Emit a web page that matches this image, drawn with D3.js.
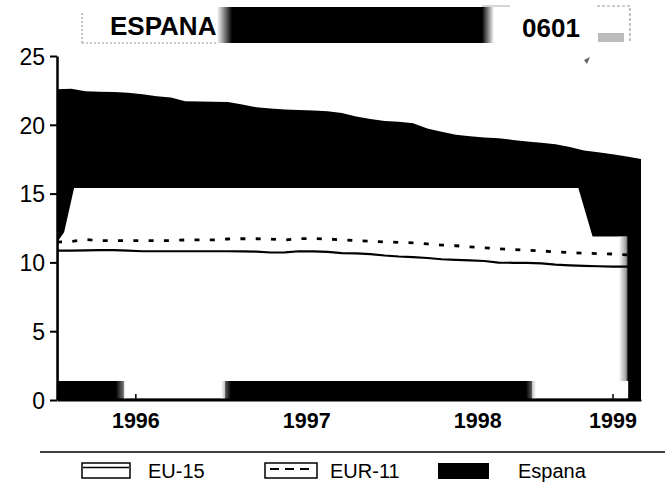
<!DOCTYPE html>
<html><head><meta charset="utf-8">
<script src="https://cdn.jsdelivr.net/npm/d3@7"></script>
<style>
body{margin:0;background:#fff}
svg{display:block}
text{font-family:"Liberation Sans",Arial,Helvetica,sans-serif;fill:#000}
</style>
</head><body>
<svg id="c" width="665" height="489"></svg>
<script>
// ---- data ----
const months = ["1996-01","1996-02","1996-03","1996-04","1996-05","1996-06","1996-07","1996-08","1996-09","1996-10","1996-11","1996-12",
"1997-01","1997-02","1997-03","1997-04","1997-05","1997-06","1997-07","1997-08","1997-09","1997-10","1997-11","1997-12",
"1998-01","1998-02","1998-03","1998-04","1998-05","1998-06","1998-07","1998-08","1998-09","1998-10","1998-11","1998-12",
"1999-01","1999-02","1999-03","1999-04","1999-05","1999-06"];
const espana = [22.58,22.62,22.43,22.41,22.38,22.33,22.22,22.07,21.98,21.71,21.69,21.67,
21.66,21.48,21.27,21.18,21.11,21.08,21.04,20.99,20.85,20.60,20.42,20.28,
20.23,20.11,19.73,19.50,19.27,19.16,19.08,19.03,18.90,18.79,18.69,18.59,
18.39,18.13,18.01,17.86,17.69,17.51];
const eu15 = [10.85,10.86,10.88,10.89,10.89,10.85,10.81,10.81,10.81,10.81,10.81,10.81,
10.81,10.80,10.79,10.72,10.73,10.81,10.80,10.76,10.68,10.65,10.60,10.50,
10.43,10.39,10.32,10.23,10.19,10.15,10.10,9.99,9.97,9.96,9.93,9.84,
9.79,9.75,9.72,9.69,9.69,9.69];
const eur11 = [11.48,11.52,11.66,11.59,11.58,11.58,11.58,11.58,11.59,11.63,11.63,11.63,
11.70,11.72,11.72,11.70,11.63,11.72,11.74,11.70,11.64,11.59,11.53,11.48,
11.46,11.42,11.34,11.26,11.21,11.13,11.06,10.99,10.94,10.88,10.83,10.77,
10.71,10.66,10.64,10.61,10.54,10.50];
const yTicks = [0,5,10,15,20,25];
const yearLabels = ["1996","1997","1998","1999"];
const yearTickPos = [5.5,17.5,29.5,39.0];   // month index where each year label sits
const legendLabels = ["EU-15","EUR-11","Espana"];
const titleText = "ESPANA", codeText = "0601";
// scan artefact: white patch over the black area (month index, value)
const maskPoly = [[1.2,15.41],[36.6,15.41],[37.6,11.88],[40.0,11.88],[40.0,1.38],[0.1,1.38],[0.1,11.6],[0.5,12.2]];
const maskHoles = [[4.7,11.8],[33.35,40.1]];  // white gaps in bottom band (months)
const holeVals = [0.12,1.38];

// ---- drawing ----
const svg = d3.select("#c");
const x = d3.scaleLinear().domain([0, months.length-1]).range([57, 641]);
const y = d3.scaleLinear().domain([0, 25]).range([400, 56]);

const defs = svg.append("defs");
function grad(id, from, to){
  const g = defs.append("linearGradient").attr("id",id);
  g.append("stop").attr("offset","0").attr("stop-color",from);
  g.append("stop").attr("offset","1").attr("stop-color",to);
}
grad("fadeL","#fff","#000");
grad("fadeR","#000","#fff");
grad("fadeLg","#fff","#555");
grad("fadeRg","#555","#fff");

// Espana area
svg.append("path").datum(espana)
  .attr("d", d3.area().x((d,i)=>x(i)).y0(y(0)).y1(d=>y(d)))
  .attr("fill","#000");

// white scan patch
svg.append("path").datum(maskPoly)
  .attr("d", d3.line().x(d=>x(d[0])).y(d=>y(d[1])).curve(d3.curveLinearClosed))
  .attr("fill","#fff");
svg.selectAll("rect.hole").data(maskHoles).join("rect").attr("class","hole")
  .attr("x", d=>x(d[0])).attr("width", d=>x(d[1])-x(d[0]))
  .attr("y", y(holeVals[1])).attr("height", y(holeVals[0])-y(holeVals[1]))
  .attr("fill","#fff");
// soft grey edges of the scan patch
const hy = y(holeVals[1]), hh = y(holeVals[0])-y(holeVals[1]);
svg.append("rect").attr("x",x(maskHoles[0][0])-8).attr("y",hy).attr("width",10).attr("height",hh).attr("fill","url(#fadeR)").attr("opacity",0.6);
svg.append("rect").attr("x",x(maskHoles[0][1])-4).attr("y",hy).attr("width",10).attr("height",hh).attr("fill","url(#fadeL)").attr("opacity",0.6);
svg.append("rect").attr("x",x(maskHoles[1][0])-6).attr("y",hy).attr("width",10).attr("height",hh).attr("fill","url(#fadeR)").attr("opacity",0.6);
svg.append("rect").attr("x",x(40.0)-8).attr("y",y(11.88)).attr("width",9).attr("height",y(1.38)-y(11.88)).attr("fill","url(#fadeLg)").attr("opacity",0.7);

// lines
const line = d3.line().x((d,i)=>x(i)).y(d=>y(d));
svg.append("path").datum(eu15).attr("d", line)
  .attr("fill","none").attr("stroke","#000").attr("stroke-width",2.2);
svg.append("path").datum(eur11).attr("d", line)
  .attr("fill","none").attr("stroke","#000").attr("stroke-width",2.8)
  .attr("stroke-dasharray","5,10.3");

// y axis
const ya = svg.append("g").attr("transform","translate(57,0)")
  .call(d3.axisLeft(y).tickValues(yTicks).tickSize(7).tickSizeOuter(0).tickPadding(5));
ya.select(".domain").attr("stroke-width",2.5);
ya.selectAll(".tick line").attr("stroke-width",2);
ya.selectAll("text").attr("font-size",23).attr("font-family",null).attr("dy","0.36em");

// x axis
const xa = svg.append("g").attr("transform","translate(0,400)")
  .call(d3.axisBottom(x).tickValues(yearTickPos).tickFormat((d,i)=>yearLabels[i])
    .tickSize(-6).tickSizeOuter(0).tickPadding(13));
xa.select(".domain").attr("stroke-width",2);
xa.selectAll(".tick line").attr("stroke-width",1.5);
xa.selectAll("text").attr("font-size",21.5).attr("font-weight","bold").attr("font-family",null);

// title block
svg.append("rect").attr("x",232).attr("y",7).attr("width",250).attr("height",36).attr("fill","#000");
svg.append("rect").attr("x",217).attr("y",7).attr("width",15).attr("height",36).attr("fill","url(#fadeL)");
svg.append("rect").attr("x",482).attr("y",7).attr("width",12).attr("height",36).attr("fill","url(#fadeR)");
svg.append("line").attr("x1",82).attr("x2",217).attr("y1",43).attr("y2",43)
  .attr("stroke","#999").attr("stroke-width",1.2).attr("stroke-dasharray","2,2");
svg.append("line").attr("x1",82).attr("x2",82).attr("y1",13).attr("y2",43)
  .attr("stroke","#888").attr("stroke-width",1).attr("stroke-dasharray","2,2");
svg.append("line").attr("x1",482).attr("x2",510).attr("y1",6).attr("y2",6)
  .attr("stroke","#aaa").attr("stroke-width",1);
svg.append("path").attr("d","M597,6H630V43").attr("fill","none")
  .attr("stroke","#999").attr("stroke-width",1.2).attr("stroke-dasharray","3,2");
svg.append("rect").attr("x",598).attr("y",33).attr("width",26).attr("height",9).attr("fill","#bbb");
svg.append("path").attr("d","M584,60L590,57L587,64Z").attr("fill","#666");
svg.append("text").attr("x",110).attr("y",35).attr("font-size",26).attr("font-weight","bold").text(titleText);
svg.append("text").attr("x",522).attr("y",36.5).attr("font-size",26).attr("font-weight","bold").text(codeText);

// legend
svg.append("line").attr("x1",40).attr("x2",665).attr("y1",452).attr("y2",452)
  .attr("stroke","#000").attr("stroke-width",1.6);
const lg = svg.append("g");
// EU-15
lg.append("rect").attr("x",82).attr("y",463).attr("width",48).attr("height",15)
  .attr("fill","#fff").attr("stroke","#000").attr("stroke-width",1.5);
lg.append("line").attr("x1",83).attr("x2",129).attr("y1",467.5).attr("y2",467.5).attr("stroke","#000").attr("stroke-width",1.5);
// EUR-11
lg.append("rect").attr("x",265).attr("y",463).attr("width",52).attr("height",15)
  .attr("fill","#fff").attr("stroke","#000").attr("stroke-width",1.5);
lg.append("line").attr("x1",270).attr("x2",313).attr("y1",469).attr("y2",469).attr("stroke","#000").attr("stroke-width",2)
  .attr("stroke-dasharray","9,6");
// Espana
lg.append("rect").attr("x",438).attr("y",463).attr("width",51).attr("height",16).attr("fill","#000");
const lx = [148,330,518];
lg.selectAll("text").data(legendLabels).join("text")
  .attr("x",(d,i)=>lx[i]).attr("y",478).attr("font-size",20).text(d=>d);
</script>
</body></html>
